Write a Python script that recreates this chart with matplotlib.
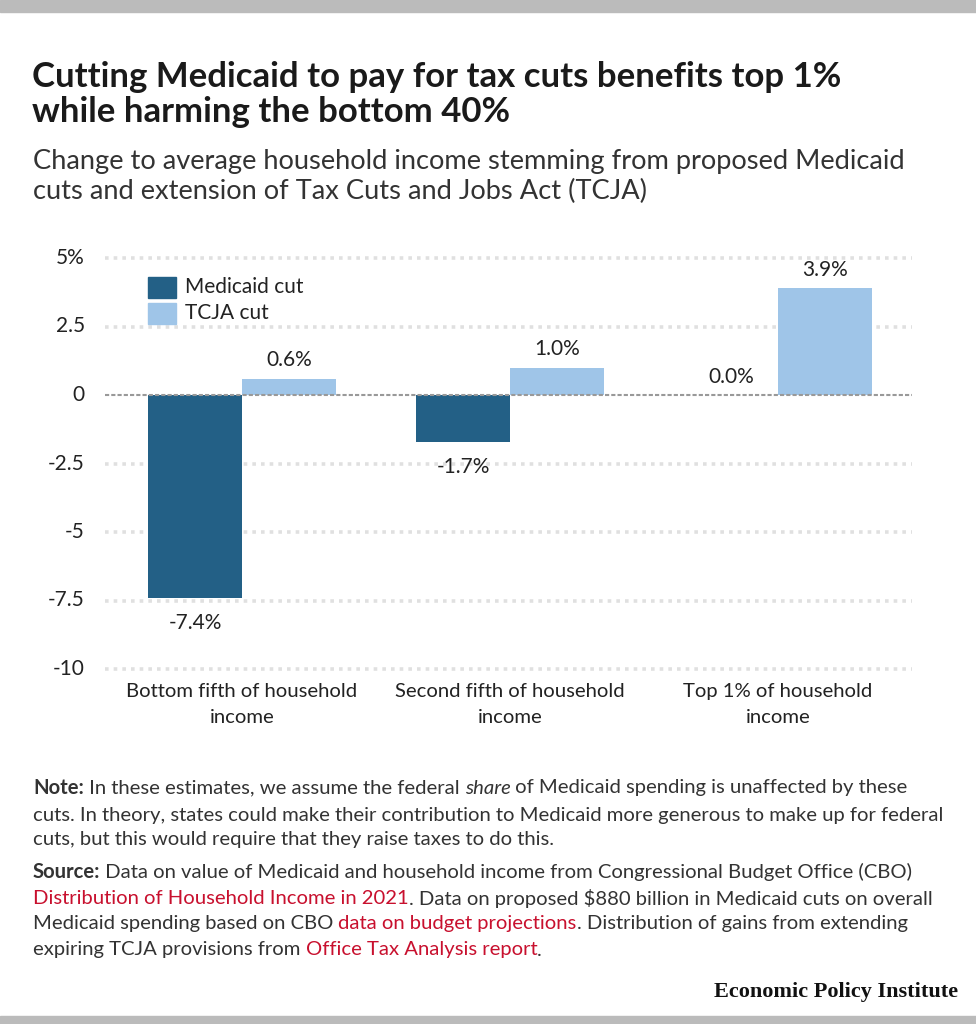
import matplotlib
matplotlib.use("Agg")
import matplotlib.pyplot as plt
import numpy as np
from matplotlib.patches import Rectangle

# data
groups = ["Bottom fifth of household\nincome", "Second fifth of household\nincome",
          "Top 1% of household\nincome"]
medicaid = [-7.4, -1.7, 0.0]
tcja = [0.6, 1.0, 3.9]
yticks = [5, 2.5, 0, -2.5, -5, -7.5, -10]
ytick_labels = ["5%", "2.5", "0", "-2.5", "-5", "-7.5", "-10"]

dark = "#236086"
light = "#9fc5e8"
red = "#c8102e"
txt = "#222222"
FONT = "Lato"

W, H = 976, 1024
fig = plt.figure(figsize=(W / 100, H / 100), dpi=100)

def fx(px):
    return px / W

def fy(py):
    return 1 - py / H

# gray bands top and bottom
fig.patches.append(Rectangle((0, fy(12)), 1, 12 / H, transform=fig.transFigure,
                             color="#bbbbbb", zorder=0))
fig.patches.append(Rectangle((0, 0), 1, 8 / H, transform=fig.transFigure,
                             color="#bbbbbb", zorder=0))

# title / subtitle
fig.text(fx(32), fy(77), "Cutting Medicaid to pay for tax cuts benefits top 1%",
         fontsize=25, fontweight="bold", family=FONT, color="#1a1a1a", va="center")
fig.text(fx(32), fy(112), "while harming the bottom 40%",
         fontsize=25, fontweight="bold", family=FONT, color="#1a1a1a", va="center")
fig.text(fx(33), fy(161), "Change to average household income stemming from proposed Medicaid",
         fontsize=19.6, family=FONT, color="#333333", va="center")
fig.text(fx(33), fy(191), "cuts and extension of Tax Cuts and Jobs Act (TCJA)",
         fontsize=19.6, family=FONT, color="#333333", va="center")

# axes
ax_l, ax_r = 105, 912
ax_t, ax_b = 240, 690
ax = fig.add_axes([fx(ax_l), fy(ax_b), (ax_r - ax_l) / W, (ax_b - ax_t) / H])
ymin = -10 - (ax_b - 669) / 27.4
ymax = 5 + (258 - ax_t) / 27.4
ax.set_ylim(ymin, ymax)
ax.set_xlim(-0.511, 2.5)
for s in ax.spines.values():
    s.set_visible(False)
ax.set_xticks([])
ax.set_yticks([])

for v in yticks:
    if v == 0:
        continue
    ax.axhline(v, color="#e0e0e0", lw=2.6, ls=(0, (1, 1.4)), zorder=0)
ax.axhline(0, color="#999999", lw=1.5, ls=(0, (2, 1)), zorder=3)

x = np.arange(len(groups))
bw = 0.35
ax.bar(x - bw / 2, medicaid, bw, color=dark, zorder=2)
ax.bar(x + bw / 2, tcja, bw, color=light, zorder=2)

for xi, v in zip(x, medicaid):
    if v < 0:
        ax.annotate(f"{v:.1f}%", (xi - bw / 2, v), xytext=(0, -11), textcoords="offset points",
                    ha="center", va="top", fontsize=15, family=FONT, color=txt)
    else:
        ax.annotate(f"{v:.1f}%", (xi - bw / 2, v), xytext=(0, 6), textcoords="offset points",
                    ha="center", va="bottom", fontsize=15, family=FONT, color=txt)
for xi, v in zip(x, tcja):
    ax.annotate(f"{v:.1f}%", (xi + bw / 2, v), xytext=(0, 6), textcoords="offset points",
                ha="center", va="bottom", fontsize=15, family=FONT, color=txt)

for v, lab in zip(yticks, ytick_labels):
    ax.text(-0.511 - 20 / 268, v, lab, ha="right", va="center", fontsize=15,
            family=FONT, color=txt)

for xi, g in zip(x, groups):
    ax.text(xi, -10 - 14 / 27.4, g, ha="center", va="top", fontsize=14.6, family=FONT,
            color=txt, linespacing=1.65)

# legend
fig.patches.append(Rectangle((fx(148), fy(298)), 28 / W, 21 / H, transform=fig.transFigure,
                             color=dark, zorder=5))
fig.patches.append(Rectangle((fx(148), fy(324)), 28 / W, 21 / H, transform=fig.transFigure,
                             color=light, zorder=5))
fig.text(fx(185), fy(287), "Medicaid cut", fontsize=15, family=FONT, color=txt, va="center")
fig.text(fx(185), fy(313), "TCJA cut", fontsize=15, family=FONT, color=txt, va="center")

# notes with mixed styles
NOTE_FONT = "Lato"
renderer = fig.canvas.get_renderer()

def rich_line(y, parts, size=14.55):
    xpos = fx(33)
    for s, style in parts:
        kw = dict(fontsize=size, family=NOTE_FONT, color="#333333", va="center")
        if style == "b":
            kw["fontweight"] = "bold"
        elif style == "i":
            kw["fontstyle"] = "italic"
        elif style == "r":
            kw["color"] = red
        t = fig.text(xpos, fy(y), s, **kw)
        bb = t.get_window_extent(renderer=renderer)
        xpos += bb.width / W

rich_line(788, [("Note:", "b"), (" In these estimates, we assume the federal ", ""), ("share", "i"),
                (" of Medicaid spending is unaffected by these", "")])
rich_line(815, [("cuts. In theory, states could make their contribution to Medicaid more generous to make up for federal", "")])
rich_line(840, [("cuts, but this would require that they raise taxes to do this.", "")])
rich_line(872, [("Source:", "b"), (" Data on value of Medicaid and household income from Congressional Budget Office (CBO)", "")])
rich_line(898, [("Distribution of Household Income in 2021", "r"),
                (". Data on proposed $880 billion in Medicaid cuts on overall", "")])
rich_line(924, [("Medicaid spending based on CBO ", ""), ("data on budget projections", "r"),
                (". Distribution of gains from extending", "")])
rich_line(950, [("expiring TCJA provisions from ", ""), ("Office Tax Analysis report", "r"), (".", "")])

fig.text(fx(958), fy(992), "Economic Policy Institute", fontsize=16, fontweight="bold",
         family="Liberation Serif", color="#111111", ha="right", va="center")

fig.savefig("out.png", dpi=100)
